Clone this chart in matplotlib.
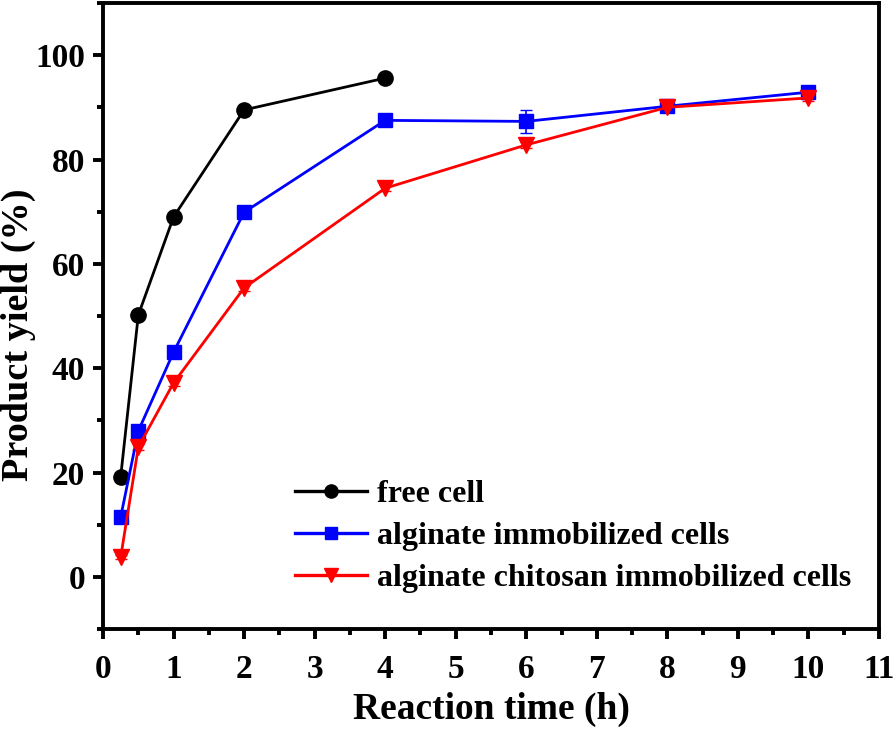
import matplotlib
matplotlib.use("Agg")
import matplotlib.pyplot as plt
from matplotlib.ticker import MultipleLocator
from matplotlib.lines import Line2D

plt.rcParams['font.family'] = ['Liberation Serif', 'DejaVu Serif']
plt.rcParams['font.weight'] = 'bold'

t_free = [0.25, 0.5, 1, 2, 4]
y_free = [19.2, 50.2, 69.0, 89.5, 95.6]
e_free = [0.5, 0.6, 0.5, 0.5, 0.5]

t_alg = [0.25, 0.5, 1, 2, 4, 6, 8, 10]
y_alg = [11.5, 28.0, 43.1, 69.9, 87.5, 87.3, 90.2, 92.9]
e_alg = [0.5, 1.2, 0.8, 0.6, 0.8, 2.2, 1.0, 0.5]

t_chi = [0.25, 0.5, 1, 2, 4, 6, 8, 10]
y_chi = [3.8, 24.9, 37.2, 55.4, 74.5, 82.8, 90.0, 91.8]
e_chi = [0.4, 0.6, 0.6, 0.5, 0.6, 0.6, 0.8, 0.5]

labels = ["free cell", "alginate immobilized cells", "alginate chitosan immobilized cells"]
colors = ['black', '#0000ff', '#ff0000']
markers = ['o', 's', 'v']
msizes = [11, 10, 12]

fig = plt.figure(figsize=(8.96, 7.3), dpi=100)
ax = fig.add_axes([0.115, 0.138, 0.866, 0.858])

lw = 2.0
series = [(t_free, y_free, e_free), (t_alg, y_alg, e_alg), (t_chi, y_chi, e_chi)]
handles = []
for (t, y, e), c, m, ms, lab in zip(series, colors, markers, msizes, labels):
    ax.errorbar(t, y, yerr=e, color=c, marker=m, ms=ms, lw=lw,
                capsize=4, elinewidth=1.2)
    handles.append(Line2D([], [], color=c, marker=m, ms=ms - 1.5, lw=2.4, label=lab))

ax.set_xlim(0, 11)
ax.set_ylim(-10, 110)
ax.xaxis.set_major_locator(MultipleLocator(1))
ax.xaxis.set_minor_locator(MultipleLocator(0.5))
ax.yaxis.set_minor_locator(MultipleLocator(10))
ax.set_yticks([0, 20, 40, 60, 80, 100])

for s in ax.spines.values():
    s.set_linewidth(2.8)
ax.tick_params(which='major', direction='out', length=7, width=2.8, labelsize=24)
ax.tick_params(axis='x', which='major', pad=11)
ax.tick_params(axis='y', which='major', pad=6)
ax.tick_params(which='minor', direction='out', length=4, width=2.8)
for lab in ax.get_xticklabels() + ax.get_yticklabels():
    lab.set_fontweight('bold')

ax.set_xlabel("Reaction time (h)", fontsize=27, fontweight='bold', labelpad=5)
ax.set_ylabel("Product yield (%)", fontsize=27.5, fontweight='bold')
ax.yaxis.set_label_coords(-0.086, 0.47)

ax.legend(handles=handles, loc='lower left', bbox_to_anchor=(0.231, 0.037),
          frameon=False, prop={'family': 'Liberation Serif', 'weight': 'bold', 'size': 23},
          handlelength=2.25, handletextpad=0.3, labelspacing=0.4, borderaxespad=0)

fig.savefig("out.png", dpi=100)
